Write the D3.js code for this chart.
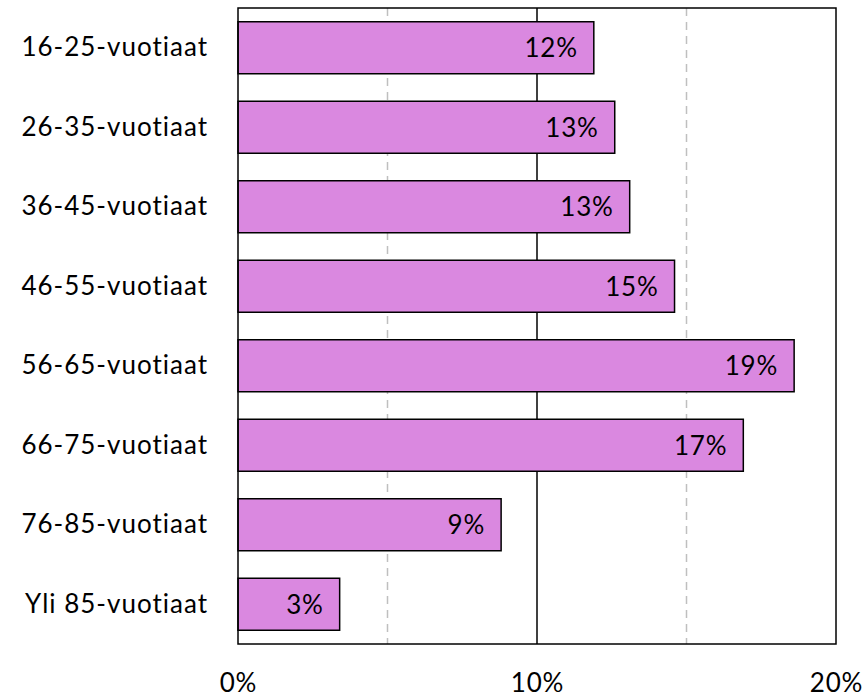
<!DOCTYPE html>
<html>
<head>
<meta charset="utf-8">
<script src="https://cdn.jsdelivr.net/npm/d3@7"></script>
<style>
  body { margin: 0; background: #fff; }
  text { font-family: Lato, "Open Sans", sans-serif; fill: #000; }
</style>
</head>
<body>
<div id="chart"></div>
<script>
// Age groups and their shares (%)
const categories = ["16-25-vuotiaat", "26-35-vuotiaat", "36-45-vuotiaat", "46-55-vuotiaat",
  "56-65-vuotiaat", "66-75-vuotiaat", "76-85-vuotiaat", "Yli 85-vuotiaat"];
const values = [11.9, 12.6, 13.1, 14.6, 18.6, 16.9, 8.8, 3.4];
const valueLabels = ["12%", "13%", "13%", "15%", "19%", "17%", "9%", "3%"];
const tickValues = [0, 10, 20];
const gridDashed = [5, 15];

const svg = d3.select("#chart")
  .append("svg")
  .attr("width", 867)
  .attr("height", 699);

const margin = { top: 8, right: 31, bottom: 55, left: 238 },
  width = 867 - margin.left - margin.right,
  height = 699 - margin.top - margin.bottom;

const g = svg.append("g")
  .attr("transform", `translate(${margin.left},${margin.top})`);

const x = d3.scaleLinear().domain([0, 20]).range([0, width]);
const y = d3.scaleBand().domain(categories).range([0, height]).paddingInner(0.346).paddingOuter(0.173);

// dashed minor gridlines
g.selectAll(".grid-dash")
  .data(gridDashed)
  .join("line")
  .attr("x1", d => x(d)).attr("x2", d => x(d))
  .attr("y1", 0).attr("y2", height)
  .attr("stroke", "#bfbfbf")
  .attr("stroke-width", 1.5)
  .attr("stroke-dasharray", "8,6");

// solid major gridline at 10%
g.append("line")
  .attr("x1", x(10)).attr("x2", x(10))
  .attr("y1", 0).attr("y2", height)
  .attr("stroke", "#000")
  .attr("stroke-width", 1.5);

// bars
g.selectAll(".bar")
  .data(values)
  .join("rect")
  .attr("x", 0)
  .attr("y", (d, i) => y(categories[i]))
  .attr("width", d => x(d))
  .attr("height", y.bandwidth())
  .attr("fill", "#da88e0")
  .attr("stroke", "#000")
  .attr("stroke-width", 1.5);

// value labels inside bar ends
g.selectAll(".val")
  .data(values)
  .join("text")
  .attr("x", d => x(d) - 16)
  .attr("y", (d, i) => y(categories[i]) + y.bandwidth() / 2)
  .attr("dy", "0.36em")
  .attr("text-anchor", "end")
  .style("font-size", "26px")
  .style("letter-spacing", "0.8px")
  .text((d, i) => valueLabels[i]);

// plot border
g.append("rect")
  .attr("width", width)
  .attr("height", height)
  .attr("fill", "none")
  .attr("stroke", "#000")
  .attr("stroke-width", 1.5);

// y axis labels
const yAxis = g.append("g")
  .call(d3.axisLeft(y).tickSize(0).tickPadding(30));
yAxis.select(".domain").remove();
yAxis.selectAll("text")
  .style("font-size", "26px")
  .style("letter-spacing", "1px")
  .style("font-family", "Lato, sans-serif");

// x axis labels
const xAxis = g.append("g")
  .attr("transform", `translate(0,${height})`)
  .call(d3.axisBottom(x).tickValues(tickValues).tickSize(0).tickPadding(30).tickFormat(d => d + "%"));
xAxis.select(".domain").remove();
xAxis.selectAll("text")
  .style("font-size", "26px")
  .style("letter-spacing", "0.8px")
  .style("font-family", "Lato, sans-serif");
</script>
</body>
</html>
